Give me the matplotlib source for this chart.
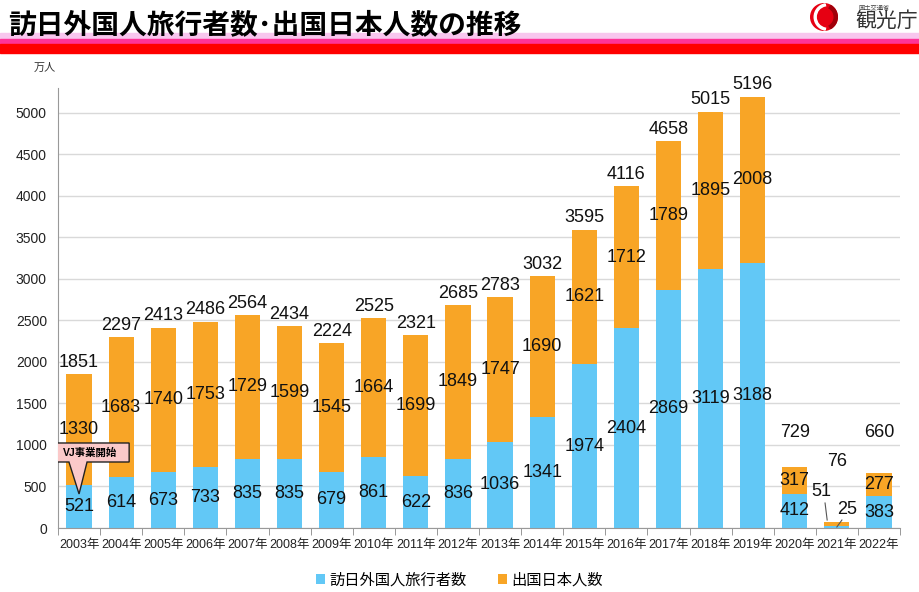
import matplotlib
matplotlib.use('Agg')
import matplotlib.pyplot as plt
from matplotlib.patches import Rectangle, Polygon, Circle, Wedge
import numpy as np

plt.rcParams['font.family'] = ['Liberation Sans', 'Noto Sans CJK JP', 'DejaVu Sans']

years = ['2003年', '2004年', '2005年', '2006年', '2007年', '2008年', '2009年', '2010年', '2011年', '2012年',
         '2013年', '2014年', '2015年', '2016年', '2017年', '2018年', '2019年', '2020年', '2021年', '2022年']
visitors = [521, 614, 673, 733, 835, 835, 679, 861, 622, 836,
            1036, 1341, 1974, 2404, 2869, 3119, 3188, 412, 25, 383]
outbound = [1330, 1683, 1740, 1753, 1729, 1599, 1545, 1664, 1699, 1849,
            1747, 1690, 1621, 1712, 1789, 1895, 2008, 317, 51, 277]
totals = [1851, 2297, 2413, 2486, 2564, 2434, 2224, 2525, 2321, 2685,
          2783, 3032, 3595, 4116, 4658, 5015, 5196, 729, 76, 660]

blue = '#62C8F6'
orange = '#F8A526'

fig = plt.figure(figsize=(9.19, 5.92), dpi=100)

# header bands
fig.patches.append(Rectangle((0, 1 - 39/592), 1, 6/592, transform=fig.transFigure, color='#F8C6EE', zorder=0))
fig.patches.append(Rectangle((0, 1 - 44/592), 1, 5/592, transform=fig.transFigure, color='#FF3399', zorder=0))
fig.patches.append(Rectangle((0, 1 - 53/592), 1, 9/592, transform=fig.transFigure, color='#FF0000', zorder=0))
fig.text(0.009, 1 - 25/592, '訪日外国人旅行者数･出国日本人数の推移', fontsize=20, fontweight='bold',
         family='Noto Sans CJK JP', va='center', ha='left')

# logo
lax = fig.add_axes([810/919, 1 - 31/592, 28/919, 28/592])
lax.set_xlim(-1, 1)
lax.set_ylim(-1, 1)
lax.set_aspect('equal')
lax.axis('off')
lax.add_patch(Circle((0, 0), 0.95, color='#E60012'))
lax.add_patch(Wedge((0.25, 0), 0.95, 100, 260, width=0.14, color='white'))
lax.add_patch(Wedge((0, 0), 0.95, 300, 60, width=0.22, color='#A0000A'))
fig.text(858/919, 1 - 7/592, '国土交通省', fontsize=4.5, family='Noto Sans CJK JP', color='#444444', va='center')
fig.text(855/919, 1 - 21/592, '観光庁', fontsize=15, family='Noto Sans CJK JP', color='#333333', va='center')

fig.text(45/919, 1 - 68/592, '万人', fontsize=8, family='Noto Sans CJK JP', color='#333333', va='center', ha='center')

ax = fig.add_axes([58/919, 1 - 528/592, 842/919, 440/592])
x = np.arange(len(years))
ax.bar(x, visitors, width=0.6, color=blue, label='訪日外国人旅行者数', zorder=2)
ax.bar(x, outbound, width=0.6, bottom=visitors, color=orange, label='出国日本人数', zorder=2)

ax.set_xlim(-0.5, len(years) - 0.5)
ax.set_ylim(0, 5300)
ax.set_yticks(np.arange(0, 5001, 500))
ax.yaxis.grid(True, color='#D9D9D9', lw=1, zorder=0)
ax.set_axisbelow(True)
ax.tick_params(axis='y', length=0, labelsize=10, colors='#222222', pad=8)
ax.set_xticks(x)
ax.set_xticklabels(years, fontsize=9)
ax.tick_params(axis='x', length=0, pad=8, colors='#222222')
ax.set_xticks(np.arange(-0.5, len(years), 1), minor=True)
ax.tick_params(axis='x', which='minor', length=5, color='#888888', direction='out')
for s in ['top', 'right']:
    ax.spines[s].set_visible(False)
ax.spines['left'].set_color('#999999')
ax.spines['bottom'].set_color('#999999')

fs = 13
for i in range(len(years)):
    if i == 18:
        continue
    ax.text(i, visitors[i] / 2, str(visitors[i]), ha='center', va='center', fontsize=fs, color='#111111', zorder=4)
    ax.text(i, visitors[i] + outbound[i] / 2, str(outbound[i]), ha='center', va='center', fontsize=fs,
            color='#111111', zorder=4)

for i in range(len(years)):
    if i >= 17:
        ty = [1145, 795, 1145][i - 17]
        ax.text(i, ty, str(totals[i]), ha='center', va='center', fontsize=fs, color='#111111')
    else:
        ax.text(i, totals[i] + 40, str(totals[i]), ha='center', va='bottom', fontsize=fs, color='#111111')

# 2021 leader labels
ax.text(17.62, 434, str(outbound[18]), ha='center', va='center', fontsize=fs, color='#111111')
ax.plot([17.72, 17.77], [301, 96], color='#555555', lw=0.8)
ax.text(18.24, 217, str(visitors[18]), ha='center', va='center', fontsize=fs, color='#111111')
ax.plot([18.12, 18.0], [96, 12], color='#555555', lw=0.8)

# callout
callout = Polygon([(-0.64, 1024), (1.19, 1024), (1.19, 795), (0.19, 795), (0.0, 410),
                   (-0.24, 795), (-0.64, 795)], closed=True, facecolor='#FBC9C9',
                  edgecolor='#222222', lw=1, zorder=5)
ax.add_patch(callout)
ax.text(0.27, 910, 'VJ事業開始', ha='center', va='center', fontsize=7.5, fontweight='bold', zorder=6,
        family=['Liberation Sans', 'Noto Sans CJK JP'])

fig.legend(loc='center', bbox_to_anchor=(0.5, 1 - 580/592), ncol=2, frameon=False,
           handlelength=0.6, handleheight=0.6, handletextpad=0.3, columnspacing=2,
           prop={'family': 'Noto Sans CJK JP', 'size': 11})

fig.savefig('out.png', dpi=100)
